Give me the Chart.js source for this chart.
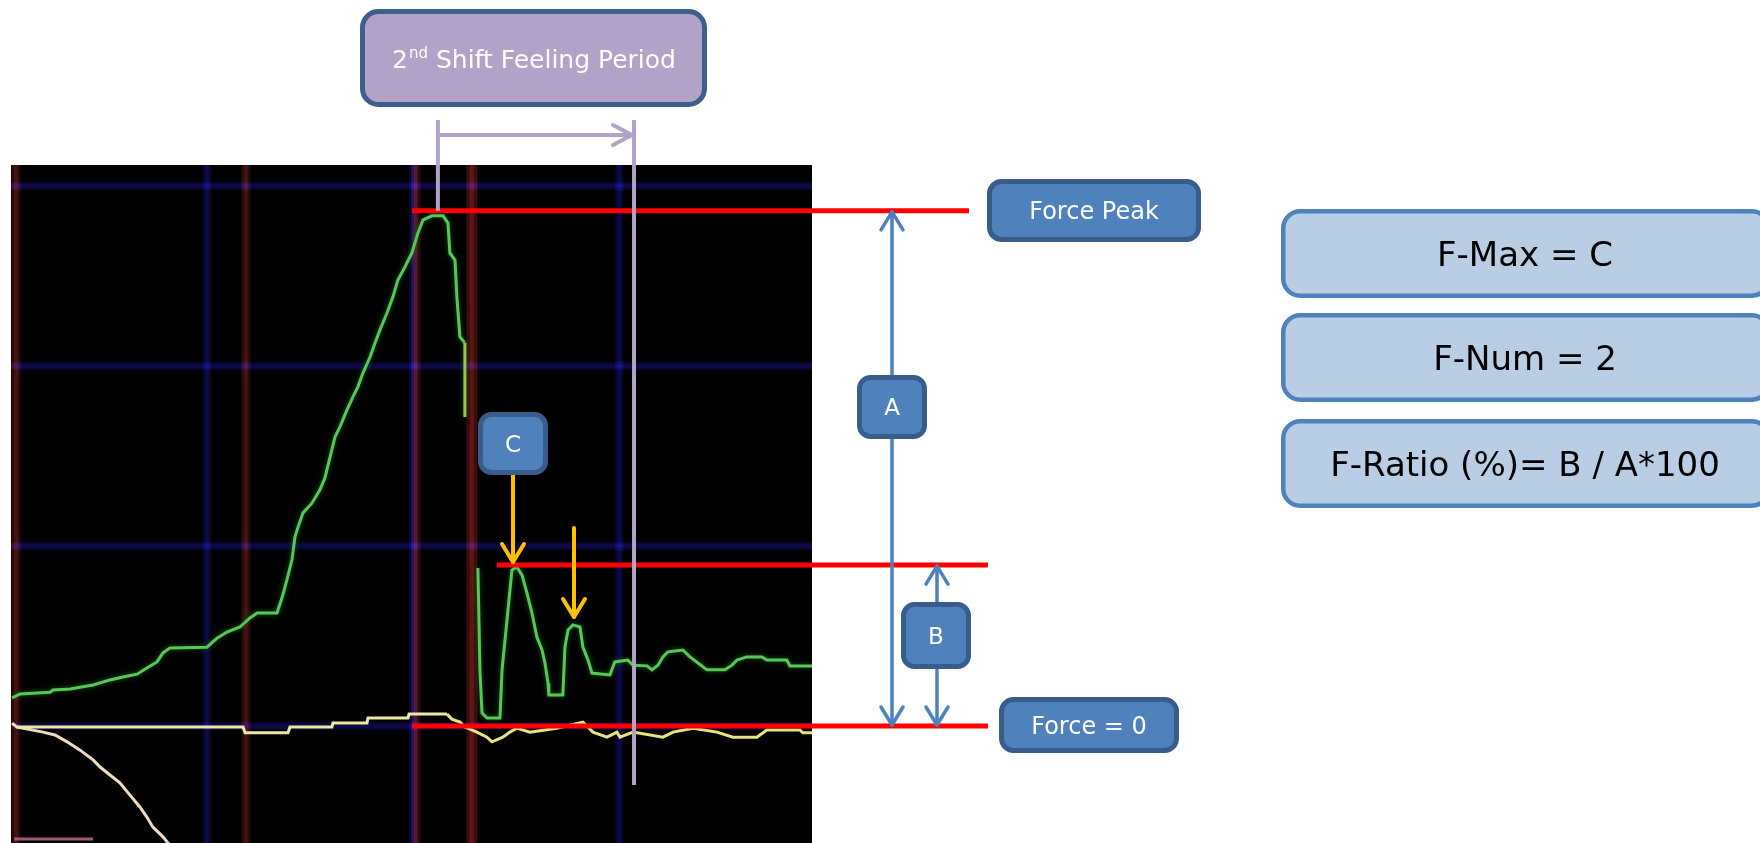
<!DOCTYPE html>
<html lang="en">
<head>
<meta charset="UTF-8">
<title>Force trace - 2nd shift feeling</title>
<script src="https://cdn.jsdelivr.net/npm/chart.js"></script>
<style>
  html, body { margin: 0; padding: 0; background: #fff; overflow: hidden; }
  canvas { display: block; }
</style>
</head>
<body>
<canvas id="scope" width="1760" height="843"></canvas>
<script>
// time in ms, force in N (scope grid: 100 ms / 50 N per division)

// green channel: shift force, before the release gap
const riseTime = [5.5, 9.4, 23.9, 25.4, 33.6, 44.8, 53.0, 59.3, 66.1, 70.9, 75.8, 78.7, 82.1, 100.0, 104.9, 109.7, 116.0, 120.9, 124.3, 134.0,
  136.4, 138.8, 141.2, 142.7, 144.2, 146.6, 150.9, 154.8, 157.2, 159.7, 162.1, 164.5, 167.9, 170.8, 173.2, 175.7, 179.1, 181.5, 183.9, 187.3,
  190.2, 192.6, 196.0, 199.4, 202.3, 204.8, 209.1, 214.5, 216.9, 217.8, 220.3, 221.2, 222.7, 225.1, 225.1];
const riseForce = [7.8, 8.9, 9.4, 10.0, 10.3, 11.4, 12.8, 13.6, 14.4, 16.1, 17.8, 20.3, 21.7, 21.9, 24.4, 26.1, 27.5, 30.0, 31.4, 31.4,
  35.6, 40.6, 46.1, 52.5, 55.3, 59.2, 61.9, 65.6, 68.9, 74.7, 80.3, 83.1, 87.8, 91.4, 94.2, 98.1, 102.5, 106.4, 110.0, 114.7,
  119.2, 123.9, 127.5, 131.4, 136.9, 140.6, 141.7, 141.7, 139.7, 131.4, 129.4, 119.2, 108.1, 106.4, 85.8];

// green channel: after the gap (2nd shift feeling)
const settleTime = [231.4, 232.4, 233.4, 235.8, 242.1, 243.1, 245.5, 247.9, 250.3, 252.8, 255.2, 257.6, 260.0, 262.5, 263.9, 265.4,
  265.8, 272.6, 273.6, 275.1, 277.5, 280.9, 282.3, 284.8, 286.7, 295.4, 297.8, 304.1, 306.6, 313.4, 315.8, 318.7, 321.1, 323.5,
  330.8, 334.2, 338.1, 342.5, 351.2, 354.6, 357.0, 361.8, 369.1, 371.5, 381.2, 382.7, 393.4];
const settleForce = [43.9, 15.0, 3.6, 2.2, 2.2, 15.6, 29.4, 43.3, 44.2, 41.9, 36.9, 31.4, 24.7, 21.1, 17.5, 11.9,
  8.6, 8.6, 21.9, 26.7, 28.1, 27.5, 21.9, 18.3, 14.7, 14.2, 17.8, 18.3, 16.9, 16.7, 15.6, 16.9, 19.2, 20.6,
  21.1, 19.2, 17.5, 15.6, 15.6, 16.9, 18.3, 19.2, 19.2, 18.3, 18.3, 16.7, 16.7];

// yellow channel
const ch2Time = [5.5, 7.9, 117.5, 118.5, 139.3, 140.3, 160.6, 161.1, 177.6, 178.1, 197.5, 198.0, 216.4, 218.8, 222.7, 225.1,
  230.9, 235.8, 238.2, 243.5, 246.9, 250.3, 256.6, 269.7, 282.3, 287.2, 294.0, 298.8, 300.3, 306.6, 321.1, 326.0,
  335.7, 347.3, 355.1, 366.7, 371.5, 387.5, 389.0, 393.4];
const ch2Force = [0.8, -0.3, -0.3, -1.9, -1.9, -0.3, -0.3, 0.8, 0.8, 2.2, 2.2, 3.3, 3.3, 1.9, 1.1, -0.3,
  -1.7, -3.1, -4.4, -3.1, -1.7, -0.6, -1.7, -0.6, 1.1, -1.7, -3.1, -1.7, -3.1, -1.7, -3.1, -1.7,
  -0.6, -1.7, -3.1, -3.1, -1.1, -1.1, -1.9, -1.9];

// pale channel falling off the bottom
const ch3Time = [7.9, 20.5, 26.3, 32.2, 38.5, 44.8, 48.2, 53.0, 57.8, 62.7, 67.5, 70.9, 73.8, 78.7, 83.1];
const ch3Force = [-0.3, -1.7, -2.5, -4.4, -6.7, -9.4, -11.4, -13.6, -15.8, -19.2, -22.5, -25.3, -28.1, -30.8, -33.9];

// pink channel at the bottom edge
const ch4Time = [6.5, 44.8];
const ch4Force = [-31.4, -31.4];

// levels marked in red
const peakLevel = 143.1;
const cLevel = 44.7;
const zeroLevel = 0;
const peakSpan = [199.4, 469.5];
const cSpan = [240.6, 478.7];
const zeroSpan = [199.4, 478.7];

// 2nd shift feeling period
const feelPeriod = [212.0, 307.1];

// scope grid and event markers
const gridTimes = [0, 100, 200, 300];
const gridForces = [0, 50, 100, 150];
const markerTimes = [7.4, 118.9, 201.4, 228.5];

const FONT = '"DejaVu Sans", "Noto Sans", sans-serif';

const pts = (xs, ys) => xs.map((x, i) => ({ x: x, y: ys[i] }));

const jumpColor = c => (Math.abs(c.p1.parsed.x - c.p0.parsed.x) < 0.6 &&
  Math.abs(c.p1.parsed.y - c.p0.parsed.y) > 15) ? '#a3bd57' : undefined;
const lateYellow = c => c.p0.parsed.x > 216 ? '#e6e47a' : undefined;

function seg(ctx, x1, y1, x2, y2) {
  ctx.beginPath(); ctx.moveTo(x1, y1); ctx.lineTo(x2, y2); ctx.stroke();
}

function chevron(ctx, tx, ty, dir, len, half) {
  // dir: 'up' | 'down' | 'right'
  ctx.beginPath();
  if (dir === 'up') { ctx.moveTo(tx - half, ty + len); ctx.lineTo(tx, ty); ctx.lineTo(tx + half, ty + len); }
  if (dir === 'down') { ctx.moveTo(tx - half, ty - len); ctx.lineTo(tx, ty); ctx.lineTo(tx + half, ty - len); }
  if (dir === 'right') { ctx.moveTo(tx - len, ty - half); ctx.lineTo(tx, ty); ctx.lineTo(tx - len, ty + half); }
  ctx.stroke();
}

function roundBox(ctx, x, y, w, h, r, fill, stroke, lw) {
  const i = lw / 2;
  x += i; y += i; w -= lw; h -= lw;
  ctx.beginPath();
  ctx.moveTo(x + r, y);
  ctx.arcTo(x + w, y, x + w, y + h, r);
  ctx.arcTo(x + w, y + h, x, y + h, r);
  ctx.arcTo(x, y + h, x, y, r);
  ctx.arcTo(x, y, x + w, y, r);
  ctx.closePath();
  ctx.fillStyle = fill; ctx.fill();
  ctx.lineWidth = lw; ctx.strokeStyle = stroke; ctx.stroke();
}

function label(ctx, text, cx, cy, size, color) {
  ctx.font = size + 'px ' + FONT;
  ctx.fillStyle = color;
  ctx.textAlign = 'center';
  ctx.textBaseline = 'alphabetic';
  ctx.fillText(text, cx, cy + size * 0.365);
}

const scopeBackground = {
  id: 'scopeBackground',
  beforeDatasetsDraw(chart) {
    const { ctx, chartArea: a, scales: { x, y } } = chart;
    ctx.save();
    ctx.fillStyle = '#000';
    ctx.fillRect(a.left, a.top, a.right - a.left, a.bottom - a.top);
    ctx.beginPath();
    ctx.rect(a.left, a.top, a.right - a.left, a.bottom - a.top);
    ctx.clip();
    ctx.globalCompositeOperation = 'lighter';
    ctx.lineCap = 'butt';
    const glow = (x1, y1, x2, y2, outer, inner, wo, wi) => {
      ctx.strokeStyle = outer; ctx.lineWidth = wo; seg(ctx, x1, y1, x2, y2);
      ctx.strokeStyle = inner; ctx.lineWidth = wi; seg(ctx, x1, y1, x2, y2);
    };
    gridTimes.forEach(t => {
      const px = x.getPixelForValue(t);
      glow(px, a.top, px, a.bottom, 'rgb(7,6,46)', 'rgb(5,4,28)', 8, 3);
    });
    gridForces.forEach(f => {
      const py = y.getPixelForValue(f);
      glow(a.left, py, a.right, py, 'rgb(7,6,46)', 'rgb(5,4,28)', 8, 3);
    });
    markerTimes.forEach((t, i) => {
      const px = x.getPixelForValue(t);
      const strong = i === markerTimes.length - 1;
      glow(px, a.top, px, a.bottom, strong ? 'rgb(58,12,12)' : 'rgb(40,9,9)',
        strong ? 'rgb(36,9,9)' : 'rgb(30,8,8)', strong ? 11 : 9, 4);
    });
    ctx.restore();
  },
  beforeDatasetDraw(chart, args) {
    if (args.meta.dataset && chart.data.datasets[args.index].glow) {
      chart.ctx.save();
      chart.ctx.shadowColor = chart.data.datasets[args.index].glow;
      chart.ctx.shadowBlur = 5;
    }
  },
  afterDatasetDraw(chart, args) {
    if (args.meta.dataset && chart.data.datasets[args.index].glow) chart.ctx.restore();
  }
};

const annotations = {
  id: 'annotations',
  afterDatasetsDraw(chart) {
    const { ctx, scales: { x, y } } = chart;
    const yPeak = y.getPixelForValue(peakLevel);
    const yC = y.getPixelForValue(cLevel);
    const y0 = y.getPixelForValue(zeroLevel);
    ctx.save();
    ctx.lineCap = 'round';
    ctx.lineJoin = 'round';

    // feeling period bracket
    const xa = x.getPixelForValue(feelPeriod[0]);
    const xb = x.getPixelForValue(feelPeriod[1]);
    ctx.strokeStyle = '#b3a2c7';
    ctx.lineWidth = 4;
    ctx.lineCap = 'butt';
    seg(ctx, xa, 120, xa, yPeak);
    seg(ctx, xb, 120, xb, 785);
    seg(ctx, xa, 135, xb - 2, 135);
    ctx.lineCap = 'round';
    chevron(ctx, xb - 2, 135, 'right', 19, 10);

    roundBox(ctx, 360, 9, 347, 98, 16, '#b3a2c7', '#3c5f8c', 5);
    ctx.fillStyle = '#fff';
    ctx.textBaseline = 'alphabetic';
    ctx.textAlign = 'left';
    const big = '25px ' + FONT, small = '15px ' + FONT;
    ctx.font = big; const w1 = ctx.measureText('2').width; const w3 = ctx.measureText(' Shift Feeling Period').width;
    ctx.font = small; const w2 = ctx.measureText('nd').width;
    const sx = 533.5 - (w1 + w2 + w3) / 2;
    const base = 68;
    ctx.font = big; ctx.fillText('2', sx, base);
    ctx.font = small; ctx.fillText('nd', sx + w1 + 1, base - 10);
    ctx.font = big; ctx.fillText(' Shift Feeling Period', sx + w1 + w2 + 1, base);

    // C arrows
    ctx.strokeStyle = '#ffc000';
    ctx.lineWidth = 4;
    seg(ctx, 513, 470, 513, yC - 3);
    chevron(ctx, 513, yC - 3, 'down', 18, 11);
    seg(ctx, 574, 528, 574, 617);
    chevron(ctx, 574, 617, 'down', 18, 11);
    roundBox(ctx, 478, 412, 70, 63, 11, '#4f81bd', '#385d8a', 5);
    label(ctx, 'C', 513, 443.5, 23, '#fff');

    // A and B dimension arrows
    ctx.strokeStyle = '#4f81bd';
    ctx.lineWidth = 3.5;
    seg(ctx, 892, yPeak + 1, 892, y0 - 1);
    chevron(ctx, 892, yPeak + 1, 'up', 18, 11);
    chevron(ctx, 892, y0 - 1, 'down', 18, 11);
    seg(ctx, 937, yC + 1, 937, y0 - 1);
    chevron(ctx, 937, yC + 1, 'up', 18, 11);
    chevron(ctx, 937, y0 - 1, 'down', 18, 11);
    roundBox(ctx, 857, 375, 70, 64, 11, '#4f81bd', '#385d8a', 5);
    label(ctx, 'A', 892, 407, 23, '#fff');
    roundBox(ctx, 901, 602, 70, 67, 11, '#4f81bd', '#385d8a', 5);
    label(ctx, 'B', 936, 635.5, 23, '#fff');

    // level labels
    roundBox(ctx, 987, 179, 214, 63, 12, '#4f81bd', '#385d8a', 5);
    label(ctx, 'Force Peak', 1094, 210.5, 24, '#fff');
    roundBox(ctx, 999, 697, 180, 56, 12, '#4f81bd', '#385d8a', 5);
    label(ctx, 'Force = 0', 1089, 725, 24, '#fff');

    // definitions
    const defs = ['F-Max = C', 'F-Num = 2', 'F-Ratio (%)= B / A*100'];
    const tops = [209, 313, 419];
    defs.forEach((d, i) => {
      roundBox(ctx, 1281, tops[i], 490, 89, 17, '#b9cde5', '#4f81bd', 4.5);
      label(ctx, d, 1525, tops[i] + 44.5, 34, '#000');
    });
    ctx.restore();
  }
};

const levelLine = (span, v) => ({
  data: [{ x: span[0], y: v }, { x: span[1], y: v }],
  borderColor: '#ff0000', borderWidth: 5, pointRadius: 0, clip: false, order: 0
});

new Chart(document.getElementById('scope'), {
  type: 'line',
  data: {
    datasets: [
      levelLine(peakSpan, peakLevel),
      levelLine(cSpan, cLevel),
      levelLine(zeroSpan, zeroLevel),
      { data: pts(riseTime, riseForce), borderColor: '#58c658', borderWidth: 3, pointRadius: 0, order: 1,
        glow: 'rgba(20,110,20,0.9)', segment: { borderColor: jumpColor } },
      { data: pts(settleTime, settleForce), borderColor: '#58c658', borderWidth: 3, pointRadius: 0, order: 1,
        glow: 'rgba(20,110,20,0.9)', segment: { borderColor: jumpColor } },
      { data: pts(ch2Time, ch2Force), borderColor: '#ebe9a4', borderWidth: 3, pointRadius: 0, order: 2,
        segment: { borderColor: lateYellow } },
      { data: pts(ch3Time, ch3Force), borderColor: '#eedcc2', borderWidth: 3, pointRadius: 0, order: 3 },
      { data: pts(ch4Time, ch4Force), borderColor: '#9c5a78', borderWidth: 3, pointRadius: 0, order: 4 }
    ]
  },
  options: {
    responsive: false,
    devicePixelRatio: 1,
    animation: false,
    layout: { padding: { left: 11, top: 165, right: 948, bottom: 0 } },
    scales: {
      x: { type: 'linear', min: 5, max: 393.4, display: false },
      y: { type: 'linear', min: -32.5, max: 155.83, display: false }
    },
    plugins: { legend: { display: false }, tooltip: { enabled: false } },
    elements: { line: { tension: 0 } }
  },
  plugins: [scopeBackground, annotations]
});
</script>
</body>
</html>
